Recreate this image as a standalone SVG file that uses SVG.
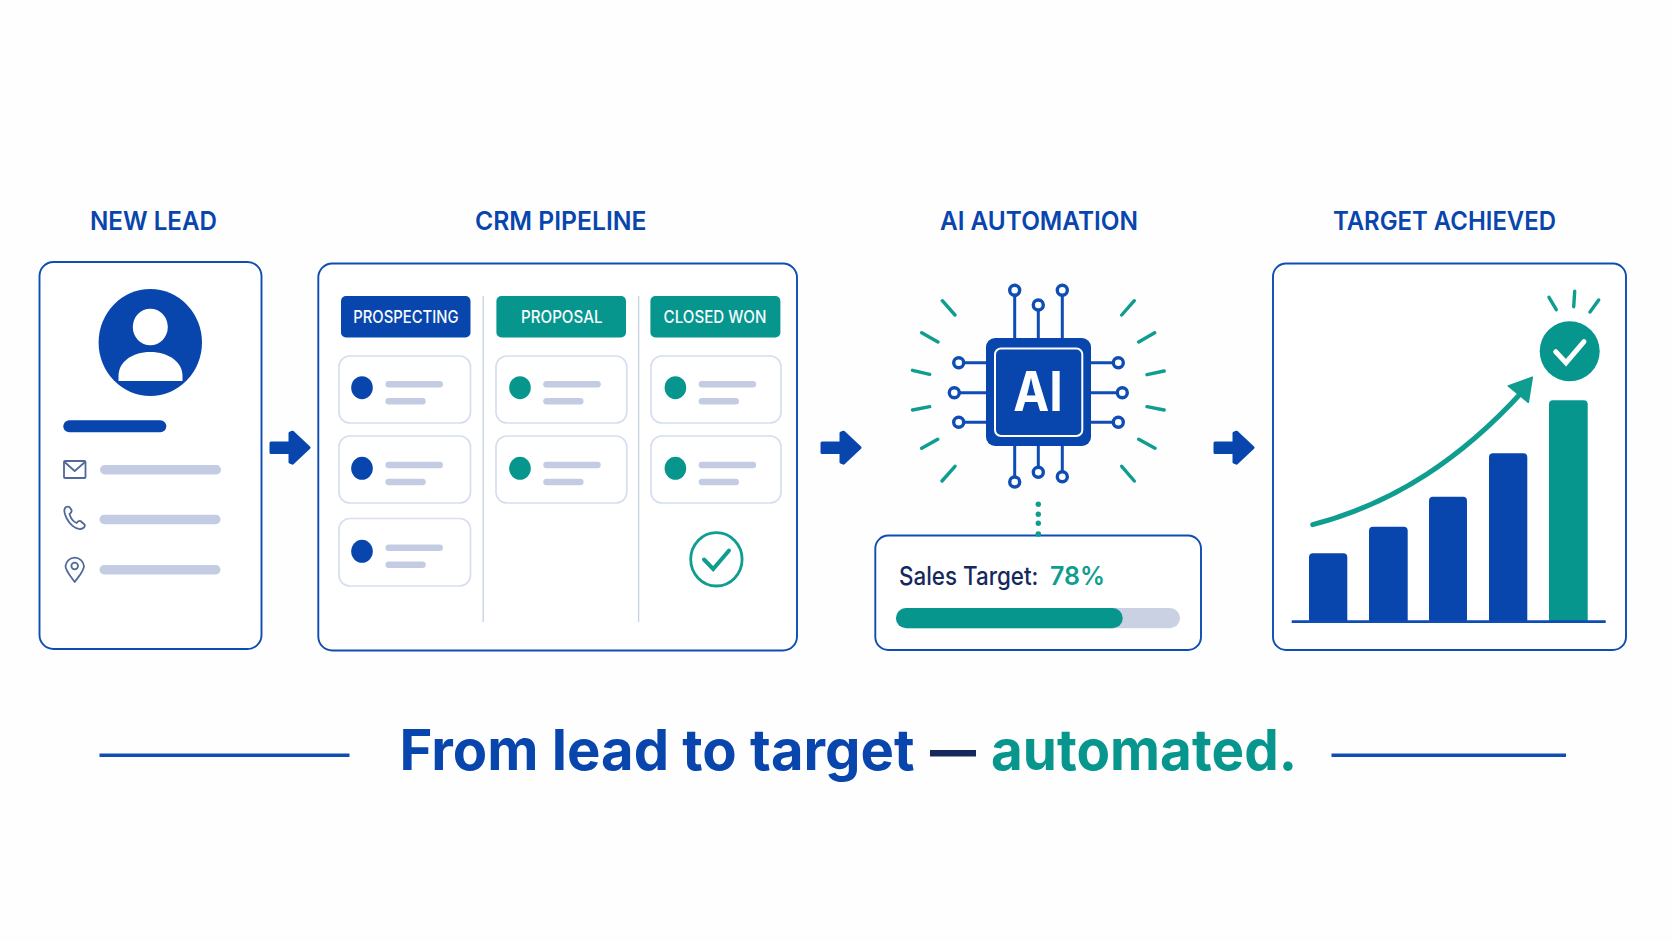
<svg xmlns="http://www.w3.org/2000/svg" xmlns:xlink="http://www.w3.org/1999/xlink" width="1672" height="941" viewBox="0 0 1672 941">
<style>
text{font-family:"Inter","Liberation Sans",sans-serif}
.title{font-size:26px;font-weight:600;fill:#0846ae}
.tab{font-size:17px;font-weight:500;fill:#f6fbfd}
.frame{fill:#fff;stroke:#0e4db3;stroke-width:1.9}
.card{fill:#fff;stroke:#d6deef;stroke-width:1.700}
.gl{stroke:#c3cce2;stroke-linecap:round;fill:none}
.sep{stroke:#c9d2e4;stroke-width:1.4}
.blue{fill:#0846ae}
.teal{fill:#06968e}
.pin{stroke:#0e4db3;stroke-width:3;fill:none}
.pad{stroke:#0e4db3;stroke-width:3.4;fill:#fff}
.ray{stroke:#0f9d90;stroke-width:3.4;stroke-linecap:round;fill:none}
.ico{stroke:#51699a;stroke-width:1.8;fill:none;stroke-linejoin:round;stroke-linecap:round}
.hl{font-size:56px;font-weight:700}
</style>
<defs>
<path id="fat" d="M1.500 -4.800H20.500V-14.500L23 -15.500L39.500 0L23 15.500L20.500 14.500V4.800H1.500Z" fill="#0846ae" stroke="#0846ae" stroke-width="3" stroke-linejoin="round"/>
<g id="lines"><line class="gl" x1="6.200" x2="57.200" y1="0" y2="0" stroke-width="6.500"/><line class="gl" x1="6.200" x2="40" y1="17" y2="17" stroke-width="6.500"/></g>
</defs>
<rect width="1672" height="941" fill="#fefefe"/>

<g id="title-lead"><text class="title" x="90" y="230" textLength="127" lengthAdjust="spacingAndGlyphs">NEW LEAD</text></g>
<g id="title-crm"><text class="title" x="475" y="230" textLength="171.500" lengthAdjust="spacingAndGlyphs">CRM PIPELINE</text></g>
<g id="title-ai"><text class="title" x="940" y="230" textLength="198" lengthAdjust="spacingAndGlyphs">AI AUTOMATION</text></g>
<g id="title-target"><text class="title" x="1333" y="230" textLength="223" lengthAdjust="spacingAndGlyphs">TARGET ACHIEVED</text></g>

<g id="node-lead">
<rect class="frame" x="39.500" y="262" width="222" height="387" rx="14"/>
<ellipse class="blue" cx="150.300" cy="342.500" rx="51.700" ry="53.500"/>
<ellipse cx="150.300" cy="327" rx="17.500" ry="18.300" fill="#fff"/>
<path d="M118.500 381V376C118.500 362 132 352 150.300 352S182.500 362 182.500 376V381Z" fill="#fff"/>
<rect class="blue" x="63.300" y="420.300" width="103" height="12" rx="6"/>
<rect x="100" y="465" width="121" height="9.500" rx="4.700" fill="#c3cce2"/>
<rect x="99.500" y="514.700" width="121" height="9.500" rx="4.700" fill="#c3cce2"/>
<rect x="99.500" y="565" width="121" height="9.500" rx="4.700" fill="#c3cce2"/>
<g class="ico">
<rect x="64" y="461" width="21.500" height="17" rx="1"/>
<path d="M64.500 462L74.700 471L85 462"/>
<path d="M66 507C63.500 509 64 513 66.500 518C69.500 524 75 529.500 80.500 529C84 528.500 85.500 526 84.500 524.500L80.500 521C79 520.500 77.500 521.500 76.500 523C73 521.500 70.500 517.500 69.500 514C71 513 72 511.500 71.500 510L69.500 507C68.500 506.500 67 506.500 66 507Z"/>
<path d="M74.700 582C71 576.500 65.500 571 65.500 566A9.300 9.300 0 0 1 84 566C84 571 78.500 576.500 74.700 582Z"/>
<circle cx="74.700" cy="566" r="3.300"/>
</g>
</g>

<g id="node-crm">
<rect class="frame" x="318.300" y="263.500" width="478.700" height="387" rx="14"/>
<line class="sep" x1="483.200" x2="483.200" y1="296" y2="622"/>
<line class="sep" x1="638.600" x2="638.600" y1="296" y2="622"/>
<g id="tab-prospecting"><rect class="blue" x="341" y="296" width="129.500" height="41.500" rx="5"/><text class="tab" x="353.200" y="323.300" textLength="105.400" lengthAdjust="spacingAndGlyphs">PROSPECTING</text></g>
<g id="tab-proposal"><rect class="teal" x="496.400" y="296" width="129.600" height="41.500" rx="5"/><text class="tab" x="521" y="323.300" textLength="81.500" lengthAdjust="spacingAndGlyphs">PROPOSAL</text></g>
<g id="tab-closed"><rect class="teal" x="650.400" y="296" width="130" height="41.500" rx="5"/><text class="tab" x="663.600" y="323.300" textLength="102.800" lengthAdjust="spacingAndGlyphs">CLOSED WON</text></g>

<g id="card-1-1"><rect class="card" x="339" y="356" width="131.500" height="67" rx="11"/><ellipse class="blue" cx="362" cy="387.700" rx="10.800" ry="11.500"/><use href="#lines" x="382.500" y="384.300"/></g>
<g id="card-1-2"><rect class="card" x="339" y="436" width="131.500" height="67" rx="11"/><ellipse class="blue" cx="362" cy="468.300" rx="10.800" ry="11.500"/><use href="#lines" x="382.500" y="465"/></g>
<g id="card-1-3"><rect class="card" x="339" y="518.500" width="131.500" height="67.500" rx="11"/><ellipse class="blue" cx="362" cy="551.300" rx="10.800" ry="11.500"/><use href="#lines" x="382.500" y="547.700"/></g>
<g id="card-2-1"><rect class="card" x="496" y="356" width="130.800" height="67" rx="11"/><ellipse class="teal" cx="520" cy="387.700" rx="10.800" ry="11.500"/><use href="#lines" x="540.300" y="384.300"/></g>
<g id="card-2-2"><rect class="card" x="496" y="436" width="130.800" height="67" rx="11"/><ellipse class="teal" cx="520" cy="468.300" rx="10.800" ry="11.500"/><use href="#lines" x="540.300" y="465"/></g>
<g id="card-3-1"><rect class="card" x="651" y="356" width="130" height="67" rx="11"/><ellipse class="teal" cx="675.400" cy="387.700" rx="10.800" ry="11.500"/><use href="#lines" x="695.700" y="384.300"/></g>
<g id="card-3-2"><rect class="card" x="651" y="436" width="130" height="67" rx="11"/><ellipse class="teal" cx="675.400" cy="468.300" rx="10.800" ry="11.500"/><use href="#lines" x="695.700" y="465"/></g>
<ellipse cx="716.400" cy="559.300" rx="25.700" ry="26.700" fill="none" stroke="#0f9d90" stroke-width="2.800"/>
<path d="M704 559.500L713.200 569L729 550.500" fill="none" stroke="#0f9d90" stroke-width="4" stroke-linecap="round" stroke-linejoin="miter"/>
</g>

<g id="node-ai">
<g id="chip-pins">
<path class="pin" d="M1014.700 290V338M1038.300 305V338M1062.300 290V338M1014.700 446V482M1038.300 446V472M1062.300 446V477M958.700 362.700H986M954.300 392.700H986M958.700 422.300H986M1091 362.700H1118.300M1091 392.700H1122.300M1091 422.300H1118.300"/>
<circle class="pad" cx="1014.700" cy="290.300" r="5"/><circle class="pad" cx="1038.300" cy="305" r="5"/><circle class="pad" cx="1062.300" cy="290.300" r="5"/>
<circle class="pad" cx="1014.700" cy="482" r="5"/><circle class="pad" cx="1038.300" cy="472.300" r="5"/><circle class="pad" cx="1062.300" cy="476.700" r="5"/>
<circle class="pad" cx="958.700" cy="362.700" r="5"/><circle class="pad" cx="954.300" cy="392.700" r="5"/><circle class="pad" cx="958.700" cy="422.300" r="5"/>
<circle class="pad" cx="1118.300" cy="362.700" r="5"/><circle class="pad" cx="1122.300" cy="392.700" r="5"/><circle class="pad" cx="1118.300" cy="422.300" r="5"/>
</g>
<rect class="blue" x="986" y="338" width="105" height="108" rx="9"/>
<rect x="995" y="348.500" width="87.300" height="87.500" rx="6" fill="none" stroke="#fff" stroke-width="2"/>
<text x="1013.300" y="411.300" font-size="55" font-weight="700" fill="#fff" textLength="49.500" lengthAdjust="spacingAndGlyphs">AI</text>
<path class="ray" d="M942.300 300.700L955 315M921.700 332.700L938 342M912.500 370.300L929.700 374.300M912.500 410L929.700 406.700M921.700 448.300L937.700 439.300M942 481L955 466.300M1134.300 300.700L1121.700 315M1154.700 332.700L1138.700 342M1164.200 371L1147 374.700M1164.200 410L1147 406.700M1155 448.300L1138.700 439.300M1134.300 481L1121.700 466.300"/>
</g>

<g id="node-sales-target">
<rect class="frame" x="875.300" y="535.500" width="325.700" height="114.500" rx="13"/>
<text x="899" y="584.700" font-size="25" font-weight="500" fill="#15295c" textLength="139.300" lengthAdjust="spacingAndGlyphs">Sales Target:</text>
<text x="1050" y="584.700" font-size="26" font-weight="600" fill="#0f9d90" textLength="55" lengthAdjust="spacingAndGlyphs">78%</text>
<rect x="896" y="608" width="284" height="20.300" rx="10.100" fill="#c9d1e3"/>
<rect x="896" y="608" width="226.700" height="20.300" rx="10.100" fill="#06968e"/>
</g>

<g id="node-target">
<rect class="frame" x="1273" y="263.500" width="353" height="386.500" rx="13"/>
<path class="blue" d="M1309 622V557.300a4 4 0 0 1 4-4H1343.300a4 4 0 0 1 4 4V622Z"/>
<path class="blue" d="M1369 622V530.700a4 4 0 0 1 4-4H1403.700a4 4 0 0 1 4 4V622Z"/>
<path class="blue" d="M1429 622V500.700a4 4 0 0 1 4-4H1463a4 4 0 0 1 4 4V622Z"/>
<path class="blue" d="M1489 622V457.300a4 4 0 0 1 4-4H1523.300a4 4 0 0 1 4 4V622Z"/>
<path class="teal" d="M1549 622V404.300a4 4 0 0 1 4-4H1583.700a4 4 0 0 1 4 4V622Z"/>
<line x1="1291.700" x2="1605.700" y1="621.700" y2="621.700" stroke="#0e4db3" stroke-width="2.800"/>
<path d="M1312.700 524.700C1395 503 1462 458 1523 391" fill="none" stroke="#0f9d90" stroke-width="5" stroke-linecap="round"/>
<path d="M1532.300 377.300L1508.300 386L1528.300 402.300Z" fill="#0f9d90" stroke="#0f9d90" stroke-width="1.500" stroke-linejoin="round"/>
<circle class="teal" cx="1569.700" cy="351.300" r="30"/>
<path d="M1555.700 351.700L1566 362.700L1584 341.700" fill="none" stroke="#fff" stroke-width="5" stroke-linecap="round"/>
<path class="ray" d="M1549 297.300L1556.300 309.700M1574.700 291.300L1573.700 306.700M1598.700 300L1590 312"/>
</g>

<g id="connectors">
<use href="#fat" x="269.500" y="447.700"/>
<use href="#fat" x="820.500" y="447.700"/>
<use href="#fat" x="1213.500" y="447.700"/>
<g id="dots" fill="#0f9d90"><circle cx="1038.300" cy="504.300" r="2.700"/><circle cx="1038.300" cy="514.300" r="2.700"/><circle cx="1038.300" cy="523.300" r="2.700"/><circle cx="1038.300" cy="534" r="2.800"/></g>
</g>

<g id="tagline">
<line x1="99.500" x2="349.500" y1="755.300" y2="755.300" stroke="#0e4db3" stroke-width="3.500"/>
<line x1="1331.500" x2="1566" y1="755.300" y2="755.300" stroke="#0e4db3" stroke-width="3.500"/>
<text class="hl" x="399.500" y="770" fill="#0846ae" textLength="515" lengthAdjust="spacingAndGlyphs">From lead to target</text>
<text class="hl" x="930" y="770" fill="#15295c" textLength="46" lengthAdjust="spacingAndGlyphs">—</text>
<text class="hl" x="991" y="770" fill="#06968e" textLength="306" lengthAdjust="spacingAndGlyphs">automated.</text>
</g>
</svg>
